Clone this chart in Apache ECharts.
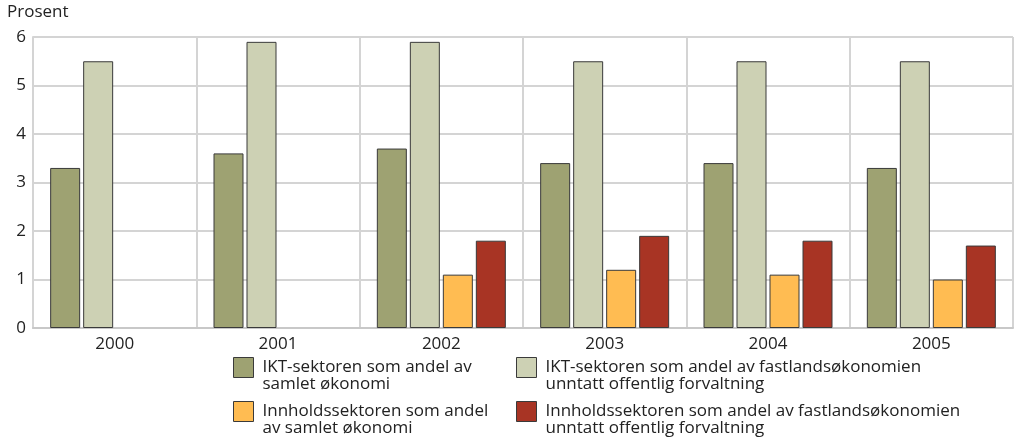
<!DOCTYPE html>
<html>
<head>
<meta charset="utf-8">
<script src="https://cdn.jsdelivr.net/npm/echarts@6/dist/echarts.min.js"></script>
<style>
  html, body { margin: 0; padding: 0; background: #fff; }
  #chart { width: 1023px; height: 441px; }
</style>
</head>
<body>
<div id="chart"></div>
<script>
var YEARS = ['2000', '2001', '2002', '2003', '2004', '2005'];
var SERIES_NAMES = [
  'IKT-sektoren som andel av\nsamlet økonomi',
  'IKT-sektoren som andel av fastlandsøkonomien\nunntatt offentlig forvaltning',
  'Innholdssektoren som andel\nav samlet økonomi',
  'Innholdssektoren som andel av fastlandsøkonomien\nunntatt offentlig forvaltning'
];
var IKT_TOTAL = [3.3, 3.6, 3.7, 3.4, 3.4, 3.3];
var IKT_MAINLAND = [5.5, 5.9, 5.9, 5.5, 5.5, 5.5];
var CONTENT_TOTAL = [null, null, 1.1, 1.2, 1.1, 1.0];
var CONTENT_MAINLAND = [null, null, 1.8, 1.9, 1.8, 1.7];
var Y_TICKS = [0, 1, 2, 3, 4, 5, 6];

var COLORS = ['#9ea272', '#cdd1b4', '#ffbc52', '#a83424'];
var FONT = 'Open Sans';

var chart = echarts.init(document.getElementById('chart'), null, { renderer: 'canvas' });

function bar(idx, data) {
  return {
    name: SERIES_NAMES[idx],
    type: 'bar',
    data: data,
    barWidth: 30,
    barGap: '10%',
    itemStyle: { color: COLORS[idx], borderColor: '#3a3a3a', borderWidth: 1 }
  };
}

// one legend per entry so the two columns line up like the original.
// leading blank line keeps the first text line level with the swatch
function legendAt(idx, left, top) {
  return {
    left: left,
    top: top,
    padding: 0,
    itemWidth: 20,
    itemHeight: 20,
    icon: 'rect',
    selectedMode: false,
    data: [SERIES_NAMES[idx]],
    formatter: function (name) { return '\n' + name; },
    textStyle: { fontFamily: FONT, fontSize: 17, color: '#222', lineHeight: 17, padding: [0, 0, 0, 4] },
    itemStyle: { borderColor: '#3a3a3a', borderWidth: 1 }
  };
}

chart.setOption({
  animation: false,
  textStyle: { fontFamily: FONT },
  grid: { left: 33, right: 10, top: 37, bottom: 113, containLabel: false },
  graphic: [{
    type: 'text', left: 7, top: 4,
    style: { text: 'Prosent', fontFamily: FONT, fontSize: 17, fill: '#222' }
  }],
  legend: [
    legendAt(0, 233, 342),
    legendAt(1, 516, 342),
    legendAt(2, 233, 386),
    legendAt(3, 516, 386)
  ],
  xAxis: {
    type: 'category',
    data: YEARS,
    axisLine: { lineStyle: { color: '#c8c8c8', width: 2 } },
    axisTick: { show: false },
    axisLabel: { fontFamily: FONT, fontSize: 17, color: '#222', margin: 8 },
    splitLine: { show: true, interval: 0, lineStyle: { color: '#d4d4d4', width: 2 } }
  },
  yAxis: {
    type: 'value',
    min: Y_TICKS[0],
    max: Y_TICKS[Y_TICKS.length - 1],
    interval: 1,
    axisLine: { show: true, lineStyle: { color: '#d4d4d4', width: 2 } },
    axisTick: { show: false },
    axisLabel: { fontFamily: FONT, fontSize: 17, color: '#222', margin: 7 },
    splitLine: { lineStyle: { color: '#d4d4d4', width: 2 } }
  },
  series: [
    bar(0, IKT_TOTAL),
    bar(1, IKT_MAINLAND),
    bar(2, CONTENT_TOTAL),
    bar(3, CONTENT_MAINLAND)
  ]
});
</script>
</body>
</html>
